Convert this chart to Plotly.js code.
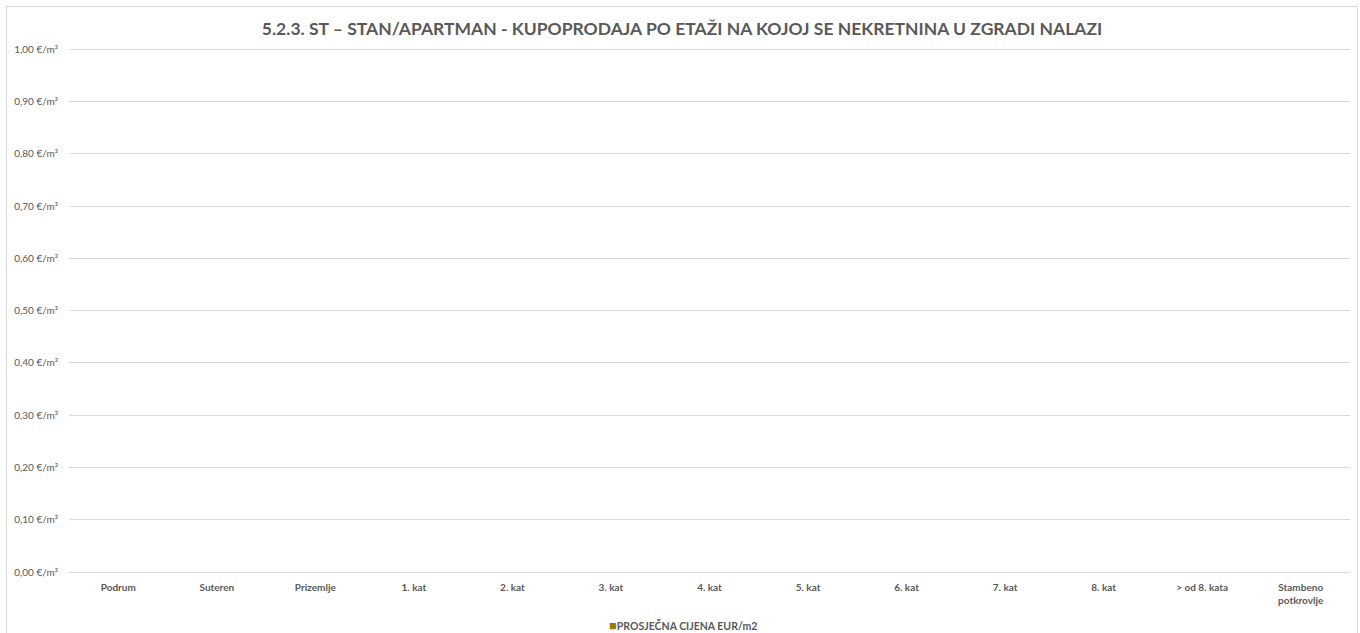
<!DOCTYPE html>
<html>
<head>
<meta charset="utf-8">
<script src="https://cdn.plot.ly/plotly-3.0.1.min.js"></script>
<style>
  body { margin: 0; background: #fff; }
  #chart { position: absolute; left: 6px; top: 6px; width: 1350px; height: 640px; border: 1px solid #d9d9d9; }
</style>
</head>
<body>
<div id="chart"></div>
<script>
// etaže (kategorije) i prosječne cijene - u izvoru nema podataka
const etaze = ["Podrum", "Suteren", "Prizemlje", "1. kat", "2. kat", "3. kat", "4. kat",
  "5. kat", "6. kat", "7. kat", "8. kat", "> od 8. kata", "Stambeno<br>potkrovlje"];
const cijene = [0, 0, 0, 0, 0, 0, 0, 0, 0, 0, 0, 0, 0];
const nazivSerije = "PROSJEČNA CIJENA EUR/m2";
const boja = "#9c7a00";

const data = [{
  x: etaze,
  y: cijene,
  type: "bar",
  name: nazivSerije,
  marker: { color: boja },
  showlegend: false
}];

const layout = {
  width: 1350, height: 640,
  paper_bgcolor: "#fff", plot_bgcolor: "#fff",
  font: { family: "Lato, 'Open Sans', sans-serif", color: "#595959", size: 10 },
  separators: ",.",
  title: {
    text: "<b>5.2.3. ST – STAN/APARTMAN - KUPOPRODAJA PO ETAŽI NA KOJOJ SE NEKRETNINA U ZGRADI NALAZI</b>",
    font: { size: 17.5, color: "#595959" },
    x: 0.5, xanchor: "center", y: 1 - 22 / 640, yanchor: "middle"
  },
  margin: { l: 62, r: 7, t: 37, b: 75 },
  xaxis: {
    type: "category",
    tickfont: { size: 10, color: "#595959", weight: "bold" },
    showgrid: false, showline: false, ticks: "", zeroline: false,
    ticklabelstandoff: 8,
    fixedrange: true
  },
  yaxis: {
    range: [0, 1.01], dtick: 0.1, tick0: 0,
    tickformat: ".2f", ticksuffix: " €/m²",
    gridcolor: "#d9d9d9", gridwidth: 1,
    zeroline: true, zerolinecolor: "#d9d9d9", zerolinewidth: 1,
    showline: false, ticks: "", ticklabelstandoff: 10,
    tickfont: { size: 10, color: "#595959" },
    fixedrange: true
  },
  showlegend: false,
  // legenda serije (kvadratić u boji + naziv)
  annotations: [{
    xref: "paper", yref: "paper", x: 0.4794, y: -0.1, xanchor: "center", yanchor: "middle",
    showarrow: false,
    text: "<span style='color:" + boja + ";font-size:13px'>■</span><b>" + nazivSerije + "</b>",
    font: { size: 10.5, color: "#595959" }
  }]
};

Plotly.newPlot("chart", data, layout, { displayModeBar: false });
</script>
</body>
</html>
